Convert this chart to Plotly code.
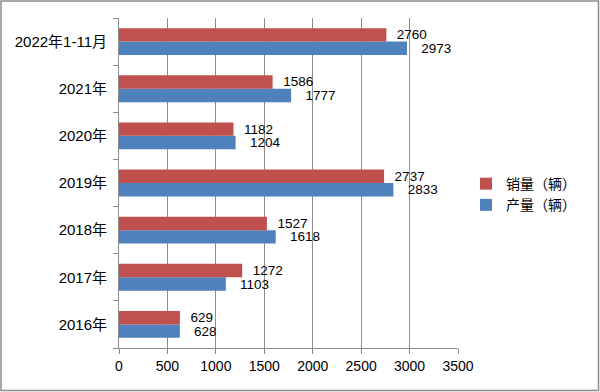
import plotly.graph_objects as go

categories = ["2016年", "2017年", "2018年", "2019年", "2020年", "2021年", "2022年1-11月"]
sales = [629, 1272, 1527, 2737, 1182, 1586, 2760]
production = [628, 1103, 1618, 2833, 1204, 1777, 2973]
x_ticks = [0, 500, 1000, 1500, 2000, 2500, 3000, 3500]

W, H = 600, 392
ML, MR, MT, MB = 119, 142, 18, 44
PW, PH = W - ML - MR, H - MT - MB

FONT = "Liberation Sans, Noto Sans CJK SC, sans-serif"

fig = go.Figure()
fig.add_trace(go.Bar(
    y=categories, x=production, orientation="h", name="产量（辆）",
    marker=dict(color="#4F81BD", line=dict(width=0)),
    text=production, texttemplate="   %{x}", textposition="outside",
    constraintext="none",
    textfont=dict(size=13.5, color="#000000", family=FONT), cliponaxis=False,
))
fig.add_trace(go.Bar(
    y=categories, x=sales, orientation="h", name="销量（辆）",
    marker=dict(color="#C0504D", line=dict(width=0)),
    text=sales, texttemplate="  %{x}", textposition="outside",
    constraintext="none",
    textfont=dict(size=13.5, color="#000000", family=FONT), cliponaxis=False,
))

# outer border of the picture
fig.add_shape(type="rect", xref="paper", yref="paper",
              x0=(1 - ML) / PW, x1=(W - 1.5 - ML) / PW,
              y0=-(MB - 1.5) / PH, y1=(PH + MT - 1) / PH,
              line=dict(color="#8C8C8C", width=1.5), fillcolor="rgba(0,0,0,0)", layer="below")

fig.update_layout(
    width=W, height=H,
    margin=dict(l=ML, r=MR, t=MT, b=MB, pad=0, autoexpand=False),
    paper_bgcolor="white", plot_bgcolor="white",
    barmode="group", bargap=0.43, bargroupgap=0,
    font=dict(family=FONT, size=14, color="#000000"),
    showlegend=True,
    legend=dict(x=(466 - ML) / PW, y=0.465, xanchor="left", yanchor="middle",
                traceorder="reversed", font=dict(size=14, family="Noto Sans CJK SC"),
                itemwidth=30, tracegroupgap=0, bgcolor="rgba(0,0,0,0)"),
    xaxis=dict(range=[0, 3500], tickvals=x_ticks, showgrid=True, gridcolor="#8C8C8C",
               gridwidth=1, zeroline=False, showline=True, linecolor="#8C8C8C", linewidth=1,
               ticks="outside", ticklen=5, tickcolor="#8C8C8C", tickfont=dict(size=14),
               automargin=False, fixedrange=True),
    yaxis=dict(type="category", categoryorder="array", categoryarray=categories,
               showline=True, linecolor="#8C8C8C", linewidth=1, ticks="outside",
               tickson="boundaries", ticklen=5, tickcolor="#8C8C8C", showgrid=False,
               tickfont=dict(size=15, family="Liberation Sans, Noto Sans CJK SC"),
               ticklabelstandoff=8, automargin=False, fixedrange=True),
)

fig.write_html("out.html", config={"displayModeBar": False},
               post_script="document.body.style.margin='0';document.body.style.overflow='hidden';")
